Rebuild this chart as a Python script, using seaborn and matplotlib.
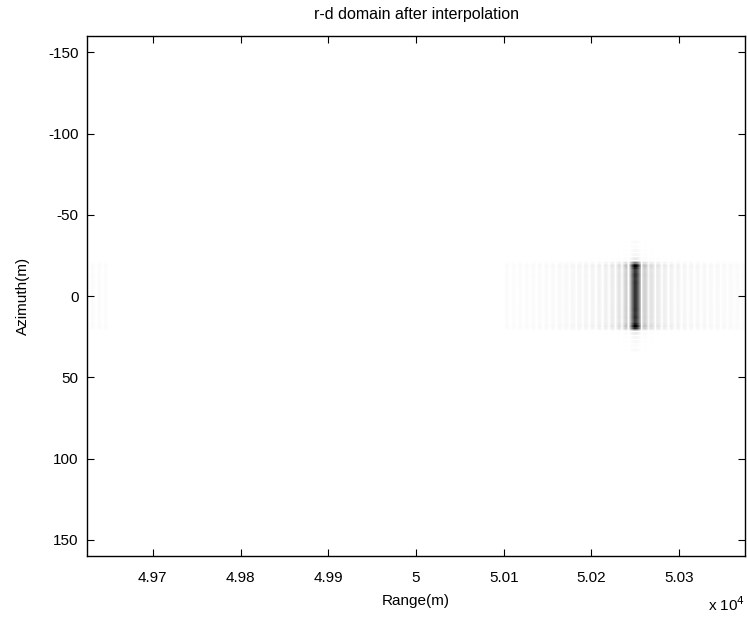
import numpy as np
import pandas as pd
import matplotlib
matplotlib.use("Agg")
import matplotlib.pyplot as plt
import seaborn as sns

# ---- chart values ----
title = "r-d domain after interpolation"
xlabel = "Range(m)"
ylabel = "Azimuth(m)"
range_limits = [49625.0, 50375.0]          # m
azimuth_limits = [-160.0, 160.0]           # m (top to bottom)
x_tick_values = [49700, 49800, 49900, 50000, 50100, 50200, 50300]
x_tick_labels = ["4.97", "4.98", "4.99", "5", "5.01", "5.02", "5.03"]
y_tick_values = [-150, -100, -50, 0, 50, 100, 150]
y_tick_labels = ["-150", "-100", "-50", "0", "50", "100", "150"]
target_range = 50250.0      # point target position in range (m)
target_azimuth = 0.0        # point target position in azimuth (m)
range_resolution = 7.5      # sinc width in range (m)
sidelobe_extent = 150.0     # half extent of range response support (m)
azimuth_half_length = 20.5  # half length of azimuth response (m)
azimuth_resolution = 2.5    # edge smoothing in azimuth (m)
azimuth_kernel_span = 14.0  # truncation of azimuth smoothing kernel (m)
edge_boost = 0.3            # extra brightness at the azimuth ends
display_gamma = 0.95        # display contrast

# ---- build the point-target response image ----
nx, ny = 750, 400
dx = (range_limits[1] - range_limits[0]) / nx
dy = (azimuth_limits[1] - azimuth_limits[0]) / ny
xs = range_limits[0] + (np.arange(nx) + 0.5) * dx
ys = azimuth_limits[0] + (np.arange(ny) + 0.5) * dy

period = range_limits[1] - range_limits[0]
d = ((xs - target_range + period / 2) % period) - period / 2
r_prof = np.abs(np.sinc(d / range_resolution)) * (np.abs(d) <= sidelobe_extent)

t = np.linspace(-azimuth_half_length, azimuth_half_length, 801)
dt = t[1] - t[0]
a_prof = []
for y in ys:
    u = y - target_azimuth - t
    k = np.sinc(u / azimuth_resolution) * (np.abs(u) <= azimuth_kernel_span)
    a_prof.append(abs(np.sum(k) * dt / azimuth_resolution))
a_prof = np.array(a_prof)
yy = np.abs(ys - target_azimuth)
a_prof = a_prof * (1 + edge_boost * np.exp(-((yy - (azimuth_half_length - 1.5)) / 1.5) ** 2))

img = np.outer(a_prof, r_prof)
img = (img / img.max()) ** display_gamma
df = pd.DataFrame(img)

# ---- plot ----
sns.set_style("ticks")
plt.rcParams['font.family'] = ['Liberation Sans', 'DejaVu Sans']
plt.rcParams['text.color'] = 'black'
plt.rcParams['axes.labelcolor'] = 'black'
plt.rcParams['xtick.color'] = 'black'
plt.rcParams['ytick.color'] = 'black'
plt.rcParams['xtick.direction'] = 'in'
plt.rcParams['ytick.direction'] = 'in'

fig = plt.figure(figsize=(7.47, 6.21), dpi=100)
ax = fig.add_axes([87 / 747, 1 - 556 / 621, (745 - 87) / 747, (556 - 36) / 621])
sns.heatmap(df, ax=ax, cmap="gray_r", vmin=0, vmax=0.95, cbar=False,
            xticklabels=False, yticklabels=False, rasterized=True)

for s in ax.spines.values():
    s.set_visible(True)
    s.set_color("black")
    s.set_linewidth(1.0)
    s.set_zorder(5)

xpos = [(v - range_limits[0]) / dx for v in x_tick_values]
ypos = [(v - azimuth_limits[0]) / dy for v in y_tick_values]
ax.set_xticks(xpos)
ax.set_xticklabels(x_tick_labels, rotation=0, fontsize=11)
ax.set_yticks(ypos)
ax.set_yticklabels(y_tick_labels, rotation=0, fontsize=11)
ax.tick_params(axis="both", which="major", direction="in", length=5, width=0.8,
               top=True, right=True, bottom=True, left=True,
               labeltop=False, labelright=False, labelbottom=True, labelleft=True,
               colors="black")
ax.tick_params(axis="x", pad=11)
ax.tick_params(axis="y", pad=6)
ax.set_axisbelow(False)
ax.set_xlim(0, nx)
ax.set_ylim(ny, 0)

ax.set_title(title, fontsize=11.5, pad=12)
ax.set_xlabel(xlabel, fontsize=11, labelpad=6)
ax.set_ylabel(ylabel, fontsize=11, labelpad=13)
ax.text(1.0, -0.075, r"x 10$^{4}$", transform=ax.transAxes, ha="right", va="top",
        fontsize=11)

fig.savefig("out.png", dpi=100)
